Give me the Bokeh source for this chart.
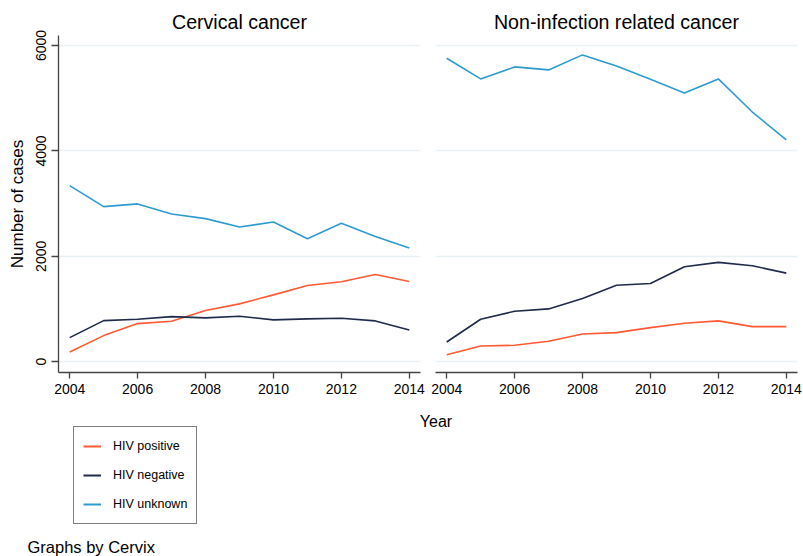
from bokeh.plotting import figure
from bokeh.models import Range1d, FixedTicker, Legend, LegendItem, Label
from bokeh.layouts import column, row
from bokeh.embed import file_html
from bokeh.resources import INLINE

# ---- data ----
years = [2004, 2005, 2006, 2007, 2008, 2009, 2010, 2011, 2012, 2013, 2014]

cervical_pos = [184, 495, 723, 767, 970, 1097, 1268, 1446, 1516, 1655, 1522]
cervical_neg = [457, 780, 805, 856, 831, 863, 793, 812, 824, 774, 603]
cervical_unk = [3342, 2943, 2994, 2803, 2715, 2556, 2651, 2334, 2626, 2378, 2156]

noninf_pos = [133, 298, 311, 387, 526, 552, 647, 729, 774, 666, 666]
noninf_neg = [374, 805, 958, 1002, 1199, 1452, 1484, 1801, 1884, 1820, 1681]
noninf_unk = [5759, 5366, 5594, 5537, 5822, 5613, 5359, 5099, 5366, 4738, 4211]

series_labels = ["HIV positive", "HIV negative", "HIV unknown"]
series_colors = ["#FF5A33", "#1E2B4A", "#2E9BD0"]
panel_titles = ["Cervical cancer", "Non-infection related cancer"]
y_ticks = [0, 2000, 4000, 6000]
x_ticks = [2004, 2006, 2008, 2010, 2012, 2014]
y_label = "Number of cases"
x_label = "Year"
note_text = "Graphs by Cervix"

FONT = "Liberation Sans"
AXIS_COL = "#444444"
GRID_COL = "#E8F1F3"
TOP_H = 405
BOT_H = 151


def make_panel(title, data, width, bl, br, show_y):
    p = figure(width=width, height=TOP_H,
               x_range=Range1d(2003.67, 2014.33), y_range=Range1d(-205, 6190),
               output_backend="svg", toolbar_location=None,
               min_border_left=bl, min_border_right=br,
               min_border_top=35, min_border_bottom=33, title=title)
    p.outline_line_color = None
    p.background_fill_color = "white"
    p.border_fill_color = "white"
    p.title.align = "center"
    p.title.text_font = FONT
    p.title.text_font_size = "19.6px"
    p.title.text_font_style = "normal"
    p.title.text_color = "black"
    p.title.standoff = 6
    p.xgrid.visible = False
    p.ygrid.ticker = FixedTicker(ticks=y_ticks)
    p.ygrid.grid_line_color = GRID_COL
    p.ygrid.grid_line_width = 1.5

    ax = p.xaxis[0]
    ax.ticker = FixedTicker(ticks=x_ticks)
    ax.axis_line_color = AXIS_COL
    ax.axis_line_width = 1.3
    ax.major_tick_line_color = AXIS_COL
    ax.major_tick_line_width = 1.3
    ax.major_tick_out = 6
    ax.major_tick_in = 0
    ax.minor_tick_line_color = None
    ax.major_label_text_font = FONT
    ax.major_label_text_font_size = "14px"
    ax.major_label_text_color = "black"
    ax.major_label_standoff = 5

    if show_y:
        ay = p.yaxis[0]
        ay.ticker = FixedTicker(ticks=y_ticks)
        ay.axis_line_color = AXIS_COL
        ay.axis_line_width = 1.3
        ay.major_tick_line_color = AXIS_COL
        ay.major_tick_line_width = 1.3
        ay.major_tick_out = 7
        ay.major_tick_in = 0
        ay.minor_tick_line_color = None
        ay.major_label_orientation = "vertical"
        ay.major_label_text_font = FONT
        ay.major_label_text_font_size = "14px"
        ay.major_label_text_color = "black"
        ay.major_label_standoff = 5
        ay.axis_label = y_label
        ay.axis_label_text_font = FONT
        ay.axis_label_text_font_size = "17px"
        ay.axis_label_text_font_style = "normal"
        ay.axis_label_text_color = "black"
        ay.axis_label_standoff = 7
    else:
        p.yaxis.visible = False

    for vals, c in zip(data, series_colors):
        p.line(years, vals, line_color=c, line_width=1.6)
    return p


pL = make_panel(panel_titles[0], [cervical_pos, cervical_neg, cervical_unk],
                428, 58, 8, True)
pR = make_panel(panel_titles[1], [noninf_pos, noninf_neg, noninf_unk],
                375, 7, 6, False)

# ---- bottom strip: shared x label, legend, note ----
pB = figure(width=803, height=BOT_H, x_range=Range1d(0, 803), y_range=Range1d(0, BOT_H),
            x_axis_type=None, y_axis_type=None, output_backend="svg",
            toolbar_location=None, min_border=0,
            min_border_left=0, min_border_right=0, min_border_top=0, min_border_bottom=0)
pB.outline_line_color = None
pB.background_fill_color = "white"
pB.border_fill_color = "white"

# legend renderers: the series lines drawn at their year positions, which lie
# outside this strip's visible range, so only the legend keys show
items = []
for lab, vals, c in zip(series_labels, [cervical_pos, cervical_neg, cervical_unk], series_colors):
    r = pB.line(years, vals, line_color=c, line_width=2)
    items.append(LegendItem(label=lab, renderers=[r]))

leg = Legend(items=items, location=(73, 32), orientation="vertical",
             padding=9, spacing=9, glyph_width=18, glyph_height=20,
             label_height=20, label_standoff=12, margin=0,
             label_text_font=FONT, label_text_font_size="12.5px",
             label_text_color="black",
             border_line_color="black", border_line_width=1.2,
             background_fill_color="white", background_fill_alpha=1)
pB.add_layout(leg)

pB.add_layout(Label(x=435.5, y=BOT_H - 16, text=x_label, text_align="center",
                    text_baseline="middle", text_font=FONT, text_font_size="16px",
                    text_color="black"))
pB.add_layout(Label(x=27, y=10, text=note_text, text_align="left",
                    text_baseline="middle", text_font=FONT, text_font_size="16.5px",
                    text_color="black"))

layout = column(row(pL, pR), pB)

open("out.html", "w").write(file_html(layout, INLINE))
